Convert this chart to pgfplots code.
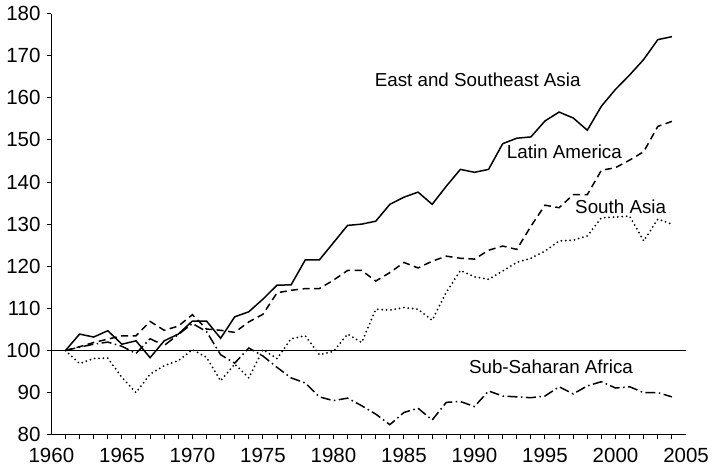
\documentclass[border=0pt]{standalone}
\usepackage{fontspec}
\setmainfont{Liberation Sans}
\usepackage{pgfplots}
\pgfplotsset{compat=1.18}
\usepackage{pgfplotstable}

\pgfplotstableread{
year esea latin south ssa
1961 100.0 100.0 100.0 100.0
1962 103.9 100.9 96.9 100.8
1963 103.2 101.9 98.1 101.5
1964 104.7 102.7 98.2 102.0
1965 101.5 103.5 93.6 101.0
1966 102.3 103.5 90.0 99.3
1967 98.3 106.9 94.4 102.8
1968 102.3 104.8 96.4 101.2
1969 103.9 105.8 97.6 103.8
1970 107.0 108.5 100.2 106.4
1971 107.0 105.1 98.4 104.5
1972 102.9 104.8 92.8 99.0
1973 108.0 104.3 96.8 97.0
1974 109.2 106.8 93.5 100.6
1975 112.2 108.6 100.2 98.7
1976 115.5 113.7 98.1 96.0
1977 115.6 114.3 102.8 93.5
1978 121.5 114.7 103.5 92.3
1979 121.5 114.7 99.0 89.0
1980 125.6 116.7 99.8 88.1
1981 129.7 119.0 103.9 88.7
1982 130.0 119.0 101.9 86.9
1983 130.7 116.5 109.8 84.9
1984 134.7 118.5 109.6 82.4
1985 136.4 120.9 110.2 85.3
1986 137.6 119.6 109.8 86.3
1987 134.7 121.2 107.2 83.5
1988 139.0 122.4 113.8 87.7
1989 143.0 121.9 119.0 87.9
1990 142.3 121.7 117.5 86.7
1991 143.0 123.8 116.9 90.4
1992 149.1 124.8 118.9 89.2
1993 150.4 124.0 120.9 89.0
1994 150.7 129.5 121.9 88.8
1995 154.5 134.5 123.6 89.2
1996 156.6 133.9 126.0 91.4
1997 155.2 137.0 126.2 89.7
1998 152.3 137.0 127.2 91.6
1999 158.0 142.8 131.5 92.6
2000 162.0 143.4 131.7 91.1
2001 165.4 145.2 131.9 91.4
2002 169.1 147.2 126.0 90.0
2003 173.8 153.2 131.2 90.0
2004 174.5 154.4 130.0 89.0
}\data

\begin{document}
\fontsize{18.8bp}{22bp}\selectfont
\begin{tikzpicture}
\begin{axis}[
  scale only axis, width=635.3bp, height=421.7bp,
  xmin=1960, xmax=2005, ymin=80, ymax=180,
  axis lines=left, axis line style={-, line width=1.2bp},
  tick align=outside,
  major tick length=4.5bp, minor tick length=4.5bp,
  tick style={black, line width=1bp},
  xtick={1960,1965,...,2005},
  minor xtick={1961,1962,...,2004},
  every major x tick/.append style={draw=none},
  ytick={80,90,...,180},
  ticklabel style={font=\fontsize{20.5bp}{24bp}\selectfont},
  xticklabel style={yshift=-2bp},
  /pgf/number format/assume math mode=true,
  /pgf/number format/set thousands separator={},
  clip=false,
]
\addplot[black, line width=1bp, forget plot] coordinates {(1960,100) (2005,100)};
\addplot[black, line width=1.5bp] table[x=year, y=esea] {\data};
\addplot[black, line width=1.5bp, dash pattern=on 7bp off 4.5bp] table[x=year, y=latin] {\data};
\addplot[black, line width=2bp, line cap=round, dash pattern=on 0bp off 4.4bp] table[x=year, y=south] {\data};
\addplot[black, line width=1.5bp, dash pattern=on 10bp off 3.5bp on 1.5bp off 3.5bp] table[x=year, y=ssa] {\data};
\node[anchor=base west, inner sep=0pt] at (axis cs:1982.92,162.76) {East and Southeast Asia};
\node[anchor=base west, inner sep=0pt] at (axis cs:1992.29,145.52) {Latin America};
\node[anchor=base west, inner sep=0pt] at (axis cs:1997.13,132.48) {South Asia};
\node[anchor=base west, inner sep=0pt] at (axis cs:1989.6,94.54) {Sub-Saharan Africa};
\end{axis}
\path (current axis.south west) ++(-50.7bp,-36bp) coordinate (bl);
\path (current axis.north east) ++(30bp,12.3bp) coordinate (tr);
\path (bl) rectangle (tr);
\end{tikzpicture}
\end{document}
